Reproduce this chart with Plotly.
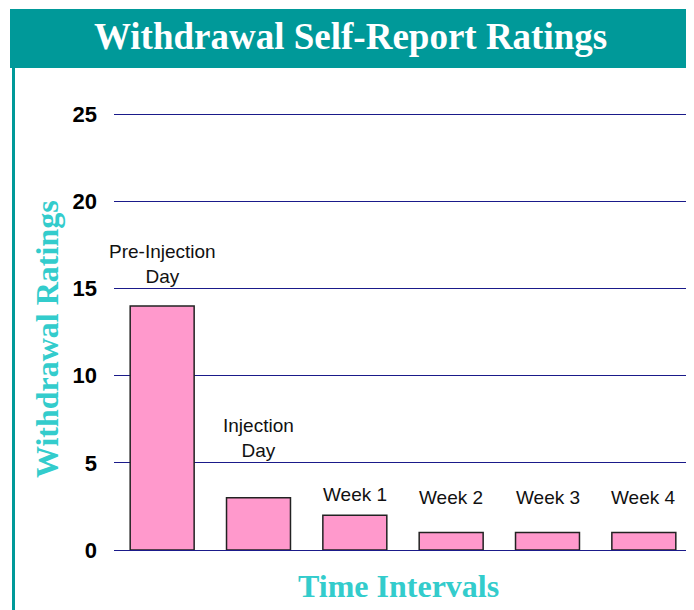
import plotly.graph_objects as go

# ---- data ----
categories = ["Pre-Injection Day", "Injection Day", "Week 1", "Week 2", "Week 3", "Week 4"]
ratings = [14, 3, 2, 1, 1, 1]
bar_labels = ["Pre-Injection<br>Day", "Injection<br>Day", "Week 1", "Week 2", "Week 3", "Week 4"]
y_ticks = [0, 5, 10, 15, 20, 25]

# ---- layout geometry (page body has an 8px margin) ----
OFF = 8
W, H = 694 - OFF, 610 - OFF
ML, MR, MT, MB = 114 - OFF, 2, 97 - OFF, 60
PW, PH = W - ML - MR, H - MT - MB

def px(x):
    return (x - OFF - ML) / PW

def py(y):
    return 1 - (y - OFF - MT) / PH

TEAL = "#009999"
LIGHT_TEAL = "#33CCCC"
NAVY = "#1a1a8a"

fig = go.Figure()
fig.add_trace(go.Bar(
    x=categories, y=ratings,
    marker=dict(color="#FF99CC", line=dict(color="#222222", width=1.5)),
    hoverinfo="skip",
))

label_shift = [42, 60, 21, 35, 35, 35]
annotations = []
for cat, val, lab, sh in zip(categories, ratings, bar_labels, label_shift):
    annotations.append(dict(
        x=cat, y=val, xref="x", yref="y", text=lab, showarrow=False,
        yanchor="middle", xanchor="center", yshift=sh,
        font=dict(family="Liberation Sans, Arial", size=19, color="#111111"),
    ))

# title
annotations.append(dict(
    x=px(350), y=py(37), xref="paper", yref="paper", text="Withdrawal Self-Report Ratings",
    showarrow=False, xanchor="center", yanchor="middle",
    font=dict(family="Liberation Serif", size=37, color="white", weight="bold"),
))
# axis titles
annotations.append(dict(
    x=px(47), y=py(339), xref="paper", yref="paper", text="Withdrawal Ratings",
    showarrow=False, xanchor="center", yanchor="middle", textangle=-90,
    font=dict(family="Liberation Serif", size=32, color=LIGHT_TEAL, weight="bold"),
))
annotations.append(dict(
    x=px(398), y=py(586), xref="paper", yref="paper", text="Time Intervals",
    showarrow=False, xanchor="center", yanchor="middle",
    font=dict(family="Liberation Serif", size=32, color=LIGHT_TEAL, weight="bold"),
))

shapes = [
    dict(type="rect", xref="paper", yref="paper", x0=px(10), x1=px(691), y0=py(9), y1=py(68),
         fillcolor=TEAL, line=dict(width=0), layer="above"),
    dict(type="rect", xref="paper", yref="paper", x0=px(12), x1=px(15), y0=py(68), y1=py(612),
         fillcolor=TEAL, line=dict(width=0), layer="above"),
    dict(type="rect", xref="paper", yref="paper", x0=px(688), x1=px(691), y0=py(68), y1=py(612),
         fillcolor=TEAL, line=dict(width=0), layer="above"),
]

fig.update_layout(
    width=W, height=H,
    margin=dict(l=ML, r=MR, t=MT, b=MB),
    paper_bgcolor="white", plot_bgcolor="white",
    bargap=0.336,
    showlegend=False,
    annotations=annotations,
    shapes=shapes,
    xaxis=dict(showticklabels=False, showgrid=False, zeroline=False, showline=False,
               ticks="", range=[-0.5, 5.5]),
    yaxis=dict(range=[0, 26], tickvals=y_ticks, showgrid=True, gridcolor=NAVY, gridwidth=1,
               zeroline=True, zerolinecolor=NAVY, zerolinewidth=1, showline=False,
               ticks="", ticklabelstandoff=16,
               tickfont=dict(family="Liberation Sans, Arial", size=22, color="black", weight="bold")),
)

fig.write_html("out.html")
